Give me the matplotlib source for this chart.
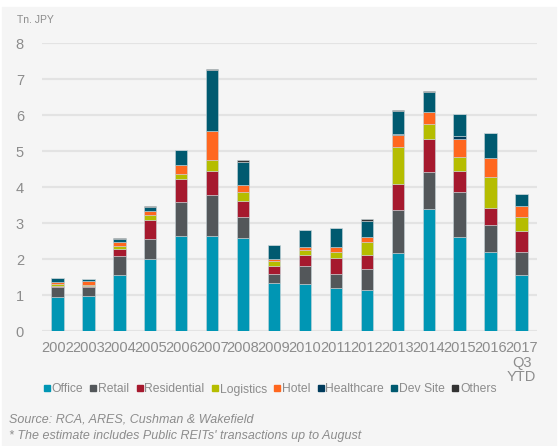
import numpy as np
import matplotlib.pyplot as plt
from matplotlib.patches import Rectangle
from matplotlib.lines import Line2D

plt.rcParams['font.family'] = ['Liberation Sans', 'DejaVu Sans']

# Transaction volume by sector (Tn. JPY)
years = ['2002', '2003', '2004', '2005', '2006', '2007', '2008', '2009',
         '2010', '2011', '2012', '2013', '2014', '2015', '2016', '2017\nQ3\nYTD']
office      = [0.94, 0.98, 1.56, 2.00, 2.64, 2.64, 2.58, 1.34, 1.32, 1.19, 1.15, 2.18, 3.41, 2.63, 2.19, 1.56]
retail      = [0.28, 0.24, 0.53, 0.57, 0.95, 1.14, 0.60, 0.24, 0.50, 0.41, 0.58, 1.19, 1.01, 1.23, 0.75, 0.63]
residential = [0.04, 0.04, 0.21, 0.52, 0.64, 0.68, 0.45, 0.23, 0.29, 0.43, 0.40, 0.71, 0.93, 0.58, 0.49, 0.60]
logistics   = [0.05, 0.03, 0.07, 0.13, 0.14, 0.29, 0.23, 0.15, 0.15, 0.16, 0.35, 1.04, 0.40, 0.40, 0.86, 0.38]
hotel       = [0.06, 0.11, 0.11, 0.12, 0.24, 0.81, 0.20, 0.06, 0.08, 0.16, 0.14, 0.34, 0.34, 0.51, 0.52, 0.32]
healthcare  = [0.00, 0.00, 0.00, 0.00, 0.00, 0.00, 0.00, 0.00, 0.00, 0.00, 0.00, 0.02, 0.00, 0.07, 0.00, 0.00]
dev_site    = [0.11, 0.05, 0.09, 0.12, 0.42, 1.69, 0.65, 0.37, 0.47, 0.52, 0.45, 0.65, 0.57, 0.61, 0.70, 0.32]
others      = [0.01, 0.01, 0.01, 0.01, 0.01, 0.03, 0.06, 0.01, 0.01, 0.01, 0.04, 0.01, 0.01, 0.01, 0.01, 0.01]

sectors = ['Office', 'Retail', 'Residential', 'Logistics', 'Hotel',
           'Healthcare', 'Dev Site', 'Others']
colors = ['#0096B4', '#53575A', '#A6192E', '#B5BD00', '#FF671F',
          '#003B5C', '#005A70', '#333333']
series = [office, retail, residential, logistics, hotel, healthcare, dev_site, others]

fig = plt.figure(figsize=(5.6, 4.46), dpi=100)
fig.patches.append(Rectangle((2 / 560, 0), 554 / 560, 439 / 446,
                             transform=fig.transFigure, color='#F5F5F5', zorder=-10))

ax = fig.add_axes([42 / 560, 1 - 331.3 / 446, 495 / 560, 288 / 446])
ax.set_facecolor('none')

x = np.arange(len(years))
bottom = np.zeros(len(years))
for vals, col in zip(series, colors):
    ax.bar(x, vals, 0.4, bottom=bottom, color=col, edgecolor='#c8d4d8',
           linewidth=0.4, zorder=3)
    bottom += np.array(vals)

ax.set_xlim(-0.5, 15.5)
ax.set_ylim(0, 8)
ax.set_yticks(range(0, 9))
ax.yaxis.grid(True, color='#E3E3E3', linewidth=1.6, zorder=0)
ax.set_axisbelow(True)
for s in ax.spines.values():
    s.set_visible(False)
ax.tick_params(axis='both', length=0, colors='#8C8C8C', labelsize=10.5)
ax.tick_params(axis='y', pad=13)
ax.tick_params(axis='x', pad=7)
ax.set_xticks(x)
ax.set_xticklabels(years, linespacing=1.05)

fig.text(17 / 560, 1 - 20 / 446, 'Tn. JPY', fontsize=7.5, color='#8C8C8C', va='center')

handles = [Line2D([], [], marker='s', linestyle='none', markersize=5,
                  markerfacecolor=c, markeredgecolor=c) for c in colors]
fig.legend(handles, sectors, loc='center', bbox_to_anchor=(270 / 560, 1 - 389.5 / 446),
           ncol=8, frameon=False, fontsize=8.7, handlelength=0.6, handletextpad=0.1,
           columnspacing=0.55, labelcolor='#8C8C8C', borderpad=0)

fig.text(9 / 560, 1 - 419 / 446, 'Source: RCA, ARES, Cushman & Wakefield',
         fontsize=9, style='italic', color='#8C8C8C', va='center')
fig.text(9 / 560, 1 - 436 / 446, "* The estimate includes Public REITs' transactions up to August",
         fontsize=9, style='italic', color='#8C8C8C', va='center')

fig.savefig('out.png', dpi=100, facecolor='white')
